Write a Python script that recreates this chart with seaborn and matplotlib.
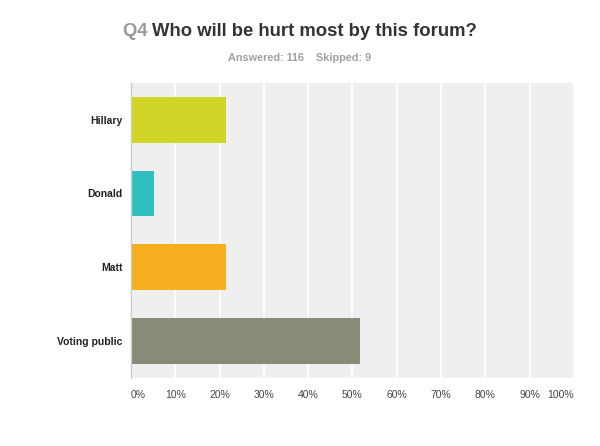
import matplotlib
matplotlib.use("Agg")
import matplotlib.pyplot as plt
import seaborn as sns
import pandas as pd

answers = ["Hillary", "Donald", "Matt", "Voting public"]
percents = [21.55, 5.17, 21.55, 51.72]
colors = ["#d0d426", "#2ebfbe", "#f6ae1f", "#8a8a78"]
xticks = [0, 10, 20, 30, 40, 50, 60, 70, 80, 90, 100]

sns.set_theme(style="whitegrid")
plt.rcParams["font.family"] = ["Liberation Sans", "DejaVu Sans"]

df = pd.DataFrame({"answer": answers, "pct": percents})

fig = plt.figure(figsize=(6, 4.46), dpi=100)
ax = fig.add_axes([0.2183, 0.1525, 0.738, 0.662])
ax.set_facecolor("#efefef")

sns.barplot(data=df, x="pct", y="answer", hue="answer", palette=colors,
            legend=False, width=0.62, saturation=1, linewidth=0,
            edgecolor="none", ax=ax)

ax.set_xlim(0, 100)
ax.set_ylim(3.5, -0.5)
ax.set_xticks(xticks)
ax.set_xticklabels([f"{t}%" for t in xticks], fontsize=7.5, color="#444444")
xl = ax.get_xticklabels()
xl[0].set_horizontalalignment("left")
xl[-1].set_horizontalalignment("right")
ax.tick_params(axis="x", pad=9, length=0)
ax.tick_params(axis="y", pad=6, length=0)
for lab in ax.get_yticklabels():
    lab.set_fontweight("bold")
    lab.set_fontsize(7.5)
    lab.set_color("#222222")
ax.set_xlabel("")
ax.set_ylabel("")
ax.grid(axis="x", color="white", linewidth=1.2)
ax.grid(axis="y", visible=False)
ax.set_axisbelow(True)
for s in ["top", "right", "bottom"]:
    ax.spines[s].set_visible(False)
ax.spines["left"].set_color("#cccccc")
ax.spines["left"].set_linewidth(1)

# title in two colours
fig.canvas.draw()
r = fig.canvas.get_renderer()
t1 = fig.text(0, 0, "Q4 ", fontsize=13.3, fontweight="bold", color="#9a9a9a")
t2 = fig.text(0, 0, "Who will be hurt most by this forum?", fontsize=13.3,
              fontweight="bold", color="#333333")
w1 = t1.get_window_extent(r).width
w2 = t2.get_window_extent(r).width
x0 = (300 - (w1 + w2) / 2) / 600
ty = 1 - 36 / 446
t1.set_position((x0, ty))
t2.set_position((x0 + w1 / 600, ty))

fig.text(0.5, 1 - 61 / 446, "Answered: 116    Skipped: 9", ha="center",
         fontsize=7.8, fontweight="bold", color="#a0a0a0")

fig.savefig("out.png", dpi=100, facecolor="white")
